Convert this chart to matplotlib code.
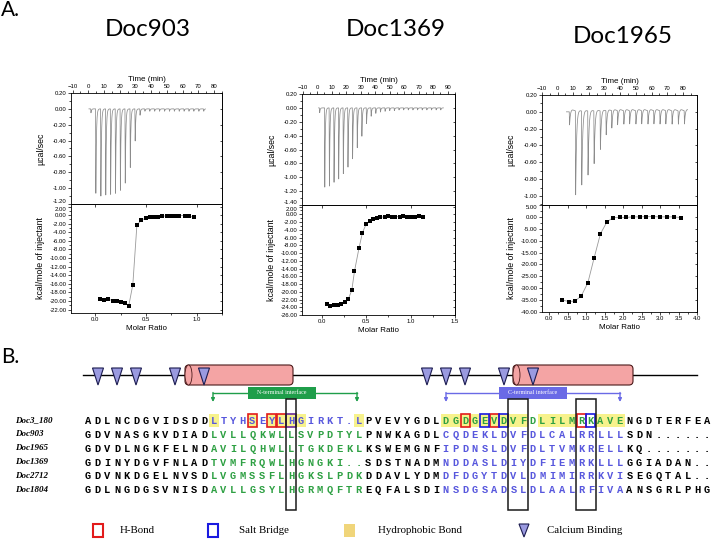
import numpy as np
import matplotlib
matplotlib.use("Agg")
import matplotlib.pyplot as plt
from matplotlib import font_manager
from matplotlib.ticker import AutoMinorLocator, FuncFormatter
from matplotlib.patches import Rectangle, Ellipse, Polygon, FancyBboxPatch

W, H = 713, 539

installed = {f.name for f in font_manager.fontManager.ttflist}
SANS = 'Liberation Sans Narrow' if 'Liberation Sans Narrow' in installed else 'Liberation Sans'
SERIF = 'Liberation Serif'
MONO = 'Liberation Mono'
TITLE = 'Lato' if 'Lato' in installed else SANS
plt.rcParams['font.family'] = [SANS, 'DejaVu Sans']
plt.rcParams['axes.linewidth'] = 0.6

# -----------------------------
# ITC data
# -----------------------------
titles = ["Doc903", "Doc1369", "Doc1965"]

p1_time = [1.5, 4.6, 7.8, 10.9, 14.0, 17.1, 20.2, 23.3, 26.5, 29.6, 32.7, 35.8,
           38.9, 42.0, 45.1, 48.3, 51.4, 54.5, 57.6, 60.7, 63.8, 66.9, 70.1, 73.2]
p1_peak = [-0.05, -1.08, -1.10, -1.10, -1.08, -1.08, -1.03, -0.95, -0.74, -0.41, -0.08, -0.03,
           -0.03, -0.03, -0.03, -0.03, -0.03, -0.03, -0.03, -0.03, -0.03, -0.03, -0.03, -0.03]
p1_ratio = [0.05, 0.09, 0.13, 0.17, 0.21, 0.25, 0.29, 0.33, 0.37, 0.41, 0.45, 0.50,
            0.54, 0.58, 0.62, 0.66, 0.71, 0.75, 0.79, 0.83, 0.88, 0.92, 0.97]
p1_heat = [-19.5, -19.7, -19.6, -19.9, -19.9, -20.2, -20.4, -21.1, -16.2, -2.4, -1.2, -0.7,
           -0.5, -0.4, -0.4, -0.2, -0.2, -0.2, -0.1, -0.1, -0.1, -0.2, -0.5]

p2_time = [1.5, 5.0, 8.2, 11.4, 14.6, 17.8, 21.0, 24.2, 27.4, 30.6, 33.8, 37.0, 40.2, 43.4,
           46.6, 49.8, 53.0, 56.2, 59.4, 62.6, 65.8, 69.0, 72.2, 75.4, 78.6, 81.8, 85.0]
p2_peak = [-0.07, -1.16, -1.13, -1.09, -1.03, -0.96, -0.86, -0.74, -0.58, -0.41, -0.23, -0.12,
           -0.08, -0.06, -0.05, -0.04, -0.04, -0.03, -0.03, -0.03, -0.03, -0.03, -0.03, -0.03,
           -0.03, -0.03, -0.03]
p2_ratio = [0.06, 0.10, 0.14, 0.18, 0.22, 0.26, 0.30, 0.34, 0.37, 0.42, 0.46, 0.50, 0.54, 0.58,
            0.62, 0.66, 0.71, 0.75, 0.79, 0.83, 0.88, 0.92, 0.96, 1.01, 1.05, 1.10, 1.14]
p2_heat = [-23.2, -23.8, -23.4, -23.3, -23.2, -22.7, -21.9, -19.6, -14.7, -8.8, -4.7, -2.6,
           -1.8, -1.3, -1.0, -0.8, -0.6, -0.5, -0.6, -0.6, -0.6, -0.5, -0.6, -0.6, -0.6, -0.4, -0.6]

p3_time = [7.4, 11.3, 15.2, 19.2, 23.1, 27.1, 30.8, 34.4, 38.1, 42.1, 45.8, 49.8, 53.5, 57.5,
           61.3, 65.2, 68.9, 72.9, 76.9, 80.8]
p3_peak = [-0.17, -1.01, -0.90, -0.78, -0.64, -0.47, -0.30, -0.22, -0.18, -0.17, -0.17, -0.17,
           -0.17, -0.17, -0.17, -0.17, -0.17, -0.17, -0.17, -0.17]
p3_ratio = [0.36, 0.54, 0.70, 0.87, 1.05, 1.22, 1.39, 1.57, 1.74, 1.92, 2.09, 2.27, 2.45, 2.63,
            2.82, 3.00, 3.19, 3.37, 3.57]
p3_heat = [-35.0, -35.6, -35.4, -33.3, -27.7, -17.2, -7.1, -2.0, -0.3, -0.2, -0.2, 0.0, 0.0,
           0.1, 0.1, 0.0, 0.0, 0.0, -0.3]

# -----------------------------
# Alignment data
# -----------------------------
seq_names = ["Doc3_180", "Doc903", "Doc1965", "Doc1369", "Doc2712", "Doc1804"]
seq_blocks = [
    ["ADLNCDGVIDSDD", "LTYHSEYLHGIRKT.L", "PVEVYGDL", "DGDGEVDVFDLILMRKAVE", "NGDTERFEA"],
    ["GDVNASGKVDIAD", "LVLLQKWLLSVPDTYL", "PNWKAGDL", "CQDEKLDVFDLCALRRLLL", "SDN......"],
    ["GDVDLNGKFELND", "AVILQHWLLTGKDEKL", "KSWEMGNF", "IPDNSLDVFDLTVMKRELL", "KQ......."],
    ["GDINYDGVFNLAD", "TVMFRQWLHGNGKI..", "SDSTNADM", "NDDASLDIYDFIEMRKLLL", "GGIADAN.."],
    ["GDVNKDGELNVSD", "LVGMSSFLHGKSLPDK", "DDAVLYDM", "DFDGYTDVLDMIMIRRKVI", "SEGQTAL.."],
    ["GDLNGDGSVNISD", "AVLLGSYLHGRMQFTR", "EQFALSDI", "NSDGSADSLDLAALRFIVA", "ANSGRLPHG"],
]
hydro_cols = [14, 18, 20, 21, 22, 23, 29, 38, 39, 40, 41, 42, 43, 44, 45, 46,
              48, 49, 50, 51, 54, 55, 56]
hbond_cols = [18, 20, 21, 40, 43, 52]
salt_cols = [42, 44, 53]
both_cols = [22]
conserved_spans = [(22, 22), (45, 46), (52, 53)]

ca_sites = [98, 117, 136, 175, 204, 427, 446, 465, 504, 533]
helices = [(185, 293), (513, 633)]
interfaces = [("N-terminal interface", 213, 357, 282, '#1f9e4a'),
              ("C-terminal interface", 446, 620, 533, '#6a6ae6')]

GREEN = '#2ea043'
BLUE = '#5757dd'
fig = plt.figure(figsize=(W / 100, H / 100), dpi=100)


def px_axes(l, t, r, b):
    return fig.add_axes([l / W, 1 - b / H, (r - l) / W, (b - t) / H])


fmt2 = FuncFormatter(lambda v, p: "0.00" if abs(v) < 1e-9 else f"{v:.2f}")


def style(ax):
    ax.tick_params(which='both', labelsize=4.3, width=0.5, pad=1, direction='out')
    ax.tick_params(which='major', length=2.2)
    ax.tick_params(which='minor', length=1.2)
    ax.xaxis.set_minor_locator(AutoMinorLocator(2))
    ax.yaxis.set_minor_locator(AutoMinorLocator(2))


def draw_itc(box, title, title_xy, times, peaks, span, tlim, tmax, ulim, uticks,
             ratio, heat, rlim, rmax, llim, lticks, tau, overshoot):
    left, top, mid, right, bottom = box
    up = px_axes(left, top, right, mid)
    lo = px_axes(left, mid, right, bottom)

    t = np.linspace(span[0], span[1], 9000)
    y = np.zeros_like(t)
    for t0, d in zip(times, peaks):
        dt = t - t0
        m1 = (dt >= 0) & (dt < 0.2)
        y[m1] += d * dt[m1] / 0.2
        m2 = dt >= 0.2
        y[m2] += d * np.exp(-(dt[m2] - 0.2) / tau)
        if overshoot:
            m3 = dt > 0
            y[m3] += overshoot * (dt[m3] / 1.2) * np.exp(1 - dt[m3] / 1.2)
    up.plot(t, y, color='#8c8c8c', lw=0.55)
    up.set_xlim(tlim)
    up.set_ylim(ulim)
    up.set_xticks(np.arange(-10, tmax + 1, 10))
    up.set_yticks(uticks)
    up.yaxis.set_major_formatter(fmt2)
    up.xaxis.tick_top()
    up.xaxis.set_label_position('top')
    style(up)
    up.set_xlabel('Time (min)', fontsize=5.8, labelpad=2)
    up.set_ylabel('µcal/sec', fontsize=6.3)
    up.yaxis.set_label_coords(-0.17, 0.5)
    sec = up.secondary_yaxis('right')
    sec.set_yticks(uticks)
    sec.tick_params(direction='in', labelright=False, length=1.8, width=0.5)
    if abs(uticks[0] - ulim[0]) < 1e-6:
        up.get_yticklabels()[0].set_va('bottom')

    lo.plot(ratio, heat, color='#9a9a9a', lw=0.6)
    lo.plot(ratio, heat, 's', color='black', ms=2.6, mew=0)
    lo.set_xlim(rlim)
    lo.set_ylim(llim)
    lo.set_xticks(np.arange(0, rmax + 0.01, 0.5))
    lo.xaxis.set_major_formatter(FuncFormatter(lambda v, p: f"{v:.1f}"))
    lo.set_yticks(lticks)
    lo.yaxis.set_major_formatter(fmt2)
    style(lo)
    lo.get_yticklabels()[-1].set_va('top')
    lo.set_xlabel('Molar Ratio', fontsize=5.8, labelpad=2)
    lo.set_ylabel('kcal/mole of injectant', fontsize=6.3)
    lo.yaxis.set_label_coords(-0.17, 0.5)
    sec2 = lo.secondary_yaxis('right')
    sec2.set_yticks(lticks)
    sec2.tick_params(direction='in', labelright=False, length=1.8, width=0.5)
    sec3 = lo.secondary_xaxis('top')
    sec3.set_xticks(np.arange(0, rmax + 0.01, 0.5))
    sec3.tick_params(direction='in', labeltop=False, length=1.8, width=0.5)

    fig.text(title_xy[0] / W, 1 - title_xy[1] / H, title, fontsize=17.5,
             family=TITLE, ha='center', va='center')


draw_itc((71, 93, 204, 222, 313), titles[0], (148, 30), p1_time, p1_peak, (0.4, 74.5),
         (-11, 85), 80, (-1.2, 0.2), np.round(np.arange(-1.2, 0.21, 0.2), 2),
         p1_ratio, p1_heat, (-0.24, 1.25), 1.0, (-22.8, 2.6), np.arange(-22, 2.1, 2),
         0.35, 0)
draw_itc((302, 94, 205, 455, 315), titles[1], (396, 30), p2_time, p2_peak, (0.9, 87.0),
         (-10.5, 95), 90, (-1.4, 0.2), np.round(np.arange(-1.4, 0.21, 0.2), 2),
         p2_ratio, p2_heat, (-0.22, 1.5), 1.5, (-26, 2.4), np.arange(-26, 2.1, 2),
         0.35, 0)
draw_itc((542, 95, 205, 697, 312), titles[2], (623, 36), p3_time, p3_peak, (5.6, 83.0),
         (-10, 89), 80, (-1.107, 0.2), np.round(np.arange(-1.0, 0.21, 0.2), 2),
         p3_ratio, p3_heat, (-0.19, 4.0), 4.0, (-40, 5), np.arange(-40, 5.1, 5),
         0.6, 0.035)

fig.text(1 / W, 1 - 10 / H, 'A.', fontsize=15, family=TITLE, ha='left', va='center')
fig.text(1 / W, 1 - 357 / H, 'B.', fontsize=15, family=TITLE, ha='left', va='center')

# -----------------------------
# Panel B (pixel coordinates)
# -----------------------------
bx = px_axes(0, 0, W, H)
bx.set_xlim(0, W)
bx.set_ylim(H, 0)
bx.axis('off')

COL0, COLW = 88.0, 9.67
ROW0, ROWH = 420.7, 13.8


def col_x(c):
    return COL0 + (c - 1) * COLW


def row_y(r):
    return ROW0 + r * ROWH


# domain diagram
bx.plot([83, 697], [375, 375], color='black', lw=1.0, zorder=2)
for x0, x1 in helices:
    bx.add_patch(FancyBboxPatch((x0, 365), x1 - x0, 20,
                                boxstyle='round,pad=0,rounding_size=4',
                                fc='#f4a4a4', ec='#4a1a1a', lw=0.8, zorder=3))
    bx.add_patch(Ellipse((x0 + 3.5, 375), 7, 20, fc='#f4a4a4', ec='#4a1a1a', lw=0.6, zorder=3))
for x in ca_sites:
    bx.add_patch(Polygon([(x - 5.5, 368), (x + 5.5, 368), (x, 385)], closed=True,
                         fc='#9a9ae0', ec='#1c1c50', lw=0.8, zorder=4))

for label, x0, x1, cx, col in interfaces:
    bw = 68
    bx.plot([x0, cx - bw / 2], [393, 393], color=col, lw=1.0)
    bx.plot([cx + bw / 2, x1], [393, 393], color=col, lw=1.0)
    for xa in (x0, x1):
        bx.annotate('', xy=(xa, 402), xytext=(xa, 392.5),
                    arrowprops=dict(arrowstyle='-|>', color=col, lw=1.0,
                                    mutation_scale=5, shrinkA=0, shrinkB=0))
    bx.add_patch(Rectangle((cx - bw / 2, 387), bw, 12, fc=col, ec='none', zorder=3))
    bx.text(cx, 393, label, color='white', family=SERIF, fontsize=4.3,
            ha='center', va='center', zorder=4)

# hydrophobic highlights
for c in hydro_cols:
    bx.add_patch(Rectangle((col_x(c) - COLW / 2, row_y(0) - 6.5), COLW, 13,
                           fc='#f7f28c', ec='none', zorder=1))

# sequences
for r, (name, blocks) in enumerate(zip(seq_names, seq_blocks)):
    bx.text(15.5, row_y(r), name, family=SERIF, style='italic', weight='bold',
            fontsize=6.5, ha='left', va='center')
    colors = ['black', BLUE, 'black', GREEN, 'black'] if r == 0 else \
             ['black', GREEN, 'black', BLUE, 'black']
    c = 1
    for block, color in zip(blocks, colors):
        for ch in block:
            bx.text(col_x(c), row_y(r) + 0.5, ch, family=MONO, weight='bold',
                    fontsize=7.5, color=color, ha='center', va='center', zorder=2)
            c += 1

for cols, ec in ((hbond_cols, '#e21b1b'), (salt_cols, '#1a1ae0'), (both_cols, '#6a2a9a')):
    for c in cols:
        bx.add_patch(Rectangle((col_x(c) - 4.6, row_y(0) - 6.3), 9.2, 12.6,
                               fill=False, ec=ec, lw=1.2, zorder=3))

for c1, c2 in conserved_spans:
    bx.add_patch(Rectangle((col_x(c1) - 5.3, 399), col_x(c2) - col_x(c1) + 10.6, 111,
                           fill=False, ec='#1a1a1a', lw=1.1, zorder=3))

# legend
ly = 530.5
bx.add_patch(Rectangle((93, ly - 6.5), 10, 13, fill=False, ec='#e21b1b', lw=1.5))
bx.text(120, ly, 'H-Bond', family=SERIF, fontsize=7.8, ha='left', va='center')
bx.add_patch(Rectangle((208, ly - 6.5), 10, 13, fill=False, ec='#1a1ae0', lw=1.5))
bx.text(239, ly, 'Salt Bridge', family=SERIF, fontsize=7.8, ha='left', va='center')
bx.add_patch(Rectangle((344, ly - 6.5), 11, 13, fc='#f0d57a', ec='none'))
bx.text(378, ly, 'Hydrophobic Bond', family=SERIF, fontsize=7.8, ha='left', va='center')
bx.add_patch(Polygon([(519, ly - 6.5), (529, ly - 6.5), (524, ly + 6.5)], closed=True,
                     fc='#9a9ae0', ec='#1c1c50', lw=0.8))
bx.text(547, ly, 'Calcium Binding', family=SERIF, fontsize=7.8, ha='left', va='center')

fig.savefig('out.png', dpi=100)
